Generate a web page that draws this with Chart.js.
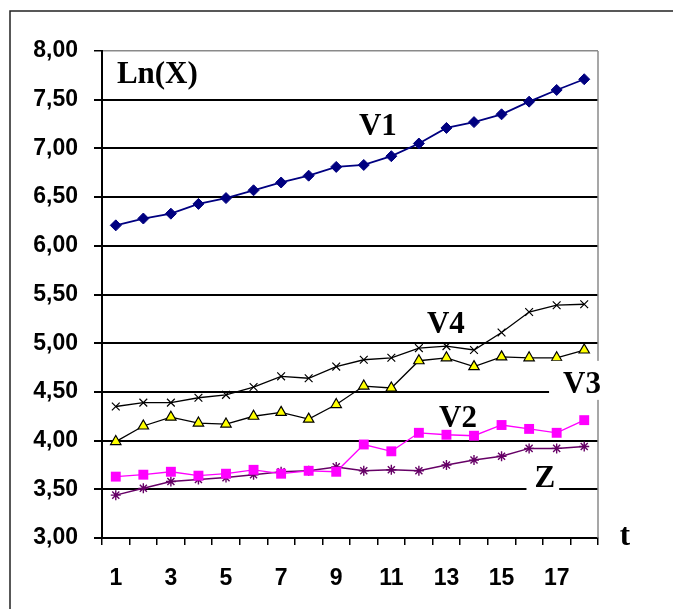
<!DOCTYPE html>
<html>
<head>
<meta charset="utf-8">
<script src="https://cdn.jsdelivr.net/npm/chart.js@4.4.1/dist/chart.umd.min.js"></script>
<style>
  html, body { margin: 0; padding: 0; background: #fff; }
  #wrap { width: 673px; height: 609px; position: relative; }
</style>
</head>
<body>
<div id="wrap"><canvas id="c" width="673" height="609"></canvas></div>
<script>
// Time index t = 1..18
const periods = [1,2,3,4,5,6,7,8,9,10,11,12,13,14,15,16,17,18];

// Ln of each series
const v1 = [6.21,6.28,6.33,6.43,6.49,6.57,6.65,6.72,6.81,6.83,6.92,7.05,7.21,7.27,7.35,7.48,7.60,7.71];
const v4 = [4.35,4.39,4.39,4.44,4.47,4.55,4.66,4.64,4.76,4.83,4.85,4.95,4.97,4.93,5.11,5.32,5.39,5.40];
const v3 = [3.99,4.15,4.24,4.18,4.17,4.25,4.29,4.22,4.37,4.56,4.54,4.82,4.85,4.76,4.86,4.85,4.85,4.93];
const v2 = [3.63,3.65,3.68,3.64,3.66,3.70,3.66,3.69,3.68,3.96,3.89,4.08,4.06,4.05,4.16,4.12,4.08,4.21];
const z  = [3.44,3.51,3.58,3.60,3.62,3.65,3.68,3.69,3.73,3.69,3.70,3.69,3.75,3.80,3.84,3.92,3.92,3.94];

// Y axis range and tick step
const yMin = 3, yMax = 8, yStep = 0.5;

// Text placed in the plot, anchored in data units (category index, value)
const textLabels = [
  { text: 'Ln(X)', at: [0.04, 7.67], align: 'left' },
  { text: 'V1', at: [9.51, 7.14] },
  { text: 'V4', at: [11.98, 5.10] },
  { text: 'V3', at: [16.92, 4.49], pad: [14, 6, 11, 7] },
  { text: 'V2', at: [12.42, 4.14] },
  { text: 'Z',  at: [15.57, 3.52], pad: [8, 4, 6, 4] },
  { text: 't',  at: [18.48, 2.93] }
];

const serif = '"Liberation Serif", "Times New Roman", serif';
const sans = '"Liberation Sans", Arial, sans-serif';

const decor = {
  id: 'decor',
  afterDraw(chart) {
    const { ctx, chartArea: a, scales: { x, y } } = chart;
    ctx.save();
    // outer frame (top and left edges)
    ctx.strokeStyle = '#222';
    ctx.lineWidth = 1.5;
    ctx.beginPath();
    ctx.moveTo(10, 609); ctx.lineTo(10, 11); ctx.lineTo(673, 11);
    ctx.stroke();
    // right edge of plot area
    ctx.strokeStyle = '#8a8a8a';
    ctx.lineWidth = 1.5;
    ctx.beginPath();
    ctx.moveTo(a.right, a.top); ctx.lineTo(a.right, a.bottom);
    ctx.stroke();

    ctx.font = 'bold 31px ' + serif;
    ctx.textBaseline = 'alphabetic';
    textLabels.forEach(l => {
      const px = x.getPixelForValue(l.at[0]);
      const py = y.getPixelForValue(l.at[1]);
      const w = ctx.measureText(l.text).width;
      const left = l.align === 'left' ? px : px - w / 2;
      if (l.pad) {
        const [pl, pr, pt, pb] = l.pad;
        ctx.fillStyle = '#fff';
        ctx.fillRect(left - pl, py - 21 - pt, w + pl + pr, 21 + pt + pb);
      }
      ctx.fillStyle = '#000';
      ctx.textAlign = 'left';
      ctx.fillText(l.text, left, py);
    });
    ctx.restore();
  }
};

new Chart(document.getElementById('c'), {
  type: 'line',
  data: {
    labels: periods,
    datasets: [
      { label: 'V1', data: v1, borderColor: '#000080', backgroundColor: '#000080', borderWidth: 1.8,
        pointStyle: 'rectRot', pointRadius: 5.5, pointBorderWidth: 1 },
      { label: 'V4', data: v4, borderColor: '#000', backgroundColor: '#000', borderWidth: 1.3,
        pointStyle: 'crossRot', pointRadius: 5.5, pointBorderWidth: 1.2 },
      { label: 'V3', data: v3, borderColor: '#000', backgroundColor: '#ffff00', borderWidth: 1.3,
        pointStyle: 'triangle', pointRadius: 6, pointBorderColor: '#000', pointBorderWidth: 1.2 },
      { label: 'V2', data: v2, borderColor: '#ff00ff', backgroundColor: '#ff00ff', borderWidth: 1.3,
        pointStyle: 'rect', pointRadius: 7, pointBorderWidth: 0 },
      { label: 'Z', data: z, borderColor: '#660066', backgroundColor: '#660066', borderWidth: 1.5,
        pointStyle: 'star', pointRadius: 5, pointBorderWidth: 1.4 }
    ]
  },
  options: {
    responsive: false,
    animation: false,
    layout: { padding: { top: 51, right: 75, left: 0, bottom: 0 } },
    plugins: { legend: { display: false }, tooltip: { enabled: false } },
    elements: { line: { tension: 0 } },
    scales: {
      x: {
        type: 'category',
        offset: true,
        afterFit(s) { s.height = 71; },
        grid: { offset: true, drawOnChartArea: false, drawTicks: true, tickLength: 7,
                color: '#000', lineWidth: 1.5 },
        border: { color: '#000', width: 2 },
        ticks: {
          autoSkip: false, maxRotation: 0, padding: 20, color: '#000',
          font: { family: sans, size: 23, weight: 'bold' },
          callback(val, i) { return i % 2 === 0 ? this.getLabelForValue(val) : ''; }
        }
      },
      y: {
        min: yMin, max: yMax,
        afterFit(s) { s.width = 102; },
        grid: {
          color: ctx => (ctx.tick && ctx.tick.value === yMax) ? '#8a8a8a' : '#000',
          lineWidth: ctx => (ctx.tick && ctx.tick.value === yMax) ? 1.5 : 2,
          tickColor: '#000', tickLength: 8, drawTicks: true
        },
        border: { color: '#000', width: 2 },
        ticks: {
          stepSize: yStep, padding: 16, color: '#000',
          font: { family: sans, size: 23, weight: 'bold' },
          callback: v => v.toFixed(2).replace('.', ',')
        }
      }
    }
  },
  plugins: [decor]
});
</script>
</body>
</html>
